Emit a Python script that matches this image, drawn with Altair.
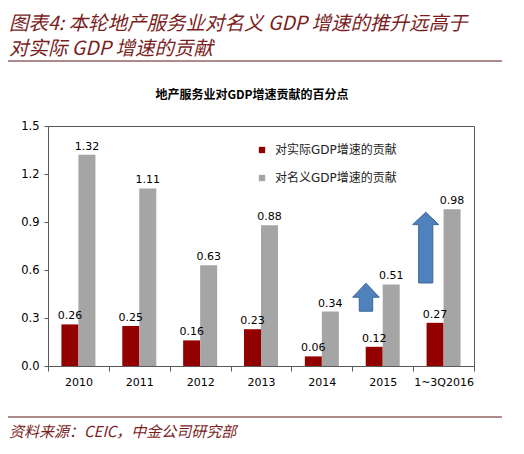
import altair as alt
import pandas as pd

# values
categories = ["2010", "2011", "2012", "2013", "2014", "2015", "1~3Q2016"]
real_contrib = [0.26, 0.25, 0.16, 0.23, 0.06, 0.12, 0.27]
nominal_contrib = [1.32, 1.11, 0.63, 0.88, 0.34, 0.51, 0.98]
series = ["对实际GDP增速的贡献", "对名义GDP增速的贡献"]

# blue "rising" arrows: category and vertical midpoint (in data units)
arrow_cats = ["2015", "1~3Q2016"]
arrow_mid = [0.43, 0.74]

title_lines = ["图表4: 本轮地产服务业对名义 GDP 增速的推升远高于", "对实际 GDP 增速的贡献"]
subtitle = "地产服务业对GDP增速贡献的百分点"
source = "资料来源：CEIC，中金公司研究部"

RED = "#930000"
GRAY = "#A5A5A5"
BROWN = "#7A1E1E"
LATIN = "DejaVu Sans"
CJK = "DejaVu Sans, Noto Sans CJK SC"

df = pd.DataFrame({
    "cat": categories * 2,
    "series": [series[0]] * len(categories) + [series[1]] * len(categories),
    "value": real_contrib + nominal_contrib,
})
arrows = pd.DataFrame({"cat": arrow_cats, "mid": arrow_mid})

x_enc = alt.X("cat:N", sort=categories, title=None,
              scale=alt.Scale(paddingInner=0, paddingOuter=0),
              axis=alt.Axis(labelAngle=0, tickBand="extent", tickSize=5,
                            labelPadding=5, labelFont=LATIN, labelFontSize=11,
                            labelColor="black", domainColor="#595959",
                            tickColor="#595959"))
y_enc = alt.Y("value:Q", title=None,
              scale=alt.Scale(domain=[0, 1.5], nice=False),
              axis=alt.Axis(values=[0, 0.3, 0.6, 0.9, 1.2, 1.5], format=".1f",
                            grid=False, tickSize=4, labelPadding=5,
                            labelFont=LATIN, labelFontSize=11.5,
                            labelColor="black", domainColor="#595959",
                            tickColor="#595959"))
off_enc = alt.XOffset("series:N", sort=series,
                      scale=alt.Scale(paddingInner=0, paddingOuter=0.79))

bars = alt.Chart(df).mark_bar().encode(
    x=x_enc,
    y=y_enc,
    xOffset=off_enc,
    color=alt.Color("series:N", sort=series,
                    scale=alt.Scale(domain=series, range=[RED, GRAY]),
                    legend=alt.Legend(orient="none", legendX=208, legendY=18,
                                      title=None, symbolType="square",
                                      symbolSize=40, symbolStrokeWidth=0,
                                      labelFont=CJK, labelFontSize=12,
                                      labelColor="#222222", labelOffset=7,
                                      rowPadding=16, padding=0)),
)

values = alt.Chart(df).mark_text(baseline="alphabetic", dy=-5, font=LATIN,
                                 fontSize=11, color="black").encode(
    x=alt.X("cat:N", sort=categories),
    y="value:Q",
    xOffset=off_enc,
    text=alt.Text("value:Q", format=".2f"),
)

arrow_small = alt.Chart(arrows[arrows["cat"] == "2015"]).mark_point(
    shape="M0,-1 L0.95,0 L0.48,0 L0.48,1 L-0.48,1 L-0.48,0 L-0.95,0 Z",
    size=784, filled=True, fill="#4F81BD", stroke="#3B6592",
    strokeWidth=1, opacity=1,
).encode(x=alt.X("cat:N", sort=categories, bandPosition=0.225), y="mid:Q")

arrow_big = alt.Chart(arrows[arrows["cat"] == "1~3Q2016"]).mark_point(
    shape="M0,-1 L0.37,-0.65 L0.2,-0.65 L0.2,1 L-0.2,1 L-0.2,-0.65 L-0.37,-0.65 Z",
    size=5000, filled=True, fill="#4F81BD", stroke="#3B6592",
    strokeWidth=1, opacity=1,
).encode(x=alt.X("cat:N", sort=categories, bandPosition=0.207), y="mid:Q")


def note(text, x, y, **style):
    return alt.Chart(pd.DataFrame({"t": [text]})).mark_text(**style).encode(
        x=alt.value(x), y=alt.value(y), text="t:N")


def hline(y):
    return alt.Chart(pd.DataFrame({"r": [0]})).mark_rule(
        color="#5A1616", strokeWidth=1).encode(
        x=alt.value(-40), x2=alt.value(454), y=alt.value(y))


title_style = dict(font="Noto Sans CJK SC", fontSize=19.5, fontStyle="italic",
                   color=BROWN, align="left", baseline="middle")
decor = [
    note(title_lines[0], -39, -102, **title_style),
    note(title_lines[1], -39, -77, **title_style),
    hline(-65),
    note(subtitle, 204, -31, font="Noto Sans CJK SC", fontSize=12,
         fontWeight="bold", color="black", align="center", baseline="middle"),
    hline(291),
    note(source, -39, 306, font="Noto Sans CJK SC", fontSize=15,
         fontStyle="italic", color=BROWN, align="left", baseline="middle"),
]

chart = alt.layer(bars, values, arrow_small, arrow_big, *decor).properties(
    width=426,
    height=240,
    padding={"left": 40, "top": 118, "right": 42, "bottom": 76},
    autosize=alt.AutoSizeParams(type="none"),
    background="white",
).configure_view(stroke="#595959", strokeWidth=1)

chart.save("out.html", embed_options={"renderer": "svg", "actions": False})
